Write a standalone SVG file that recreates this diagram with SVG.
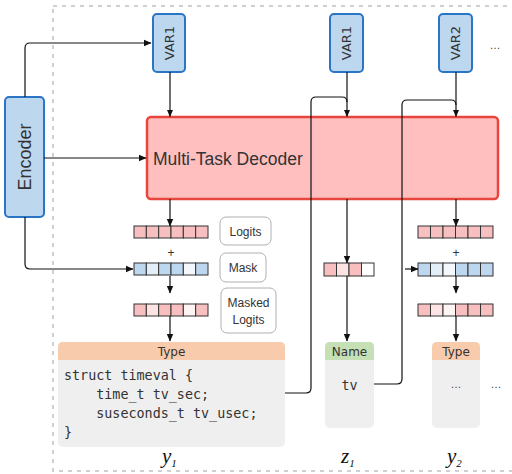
<svg xmlns="http://www.w3.org/2000/svg" width="512" height="474" viewBox="0 0 512 474">
<defs>
<marker id="ah" markerWidth="8" markerHeight="8" refX="7" refY="4" orient="auto" markerUnits="userSpaceOnUse">
<path d="M0,0.8 L7.5,4 L0,7.2 Z" fill="#111"/>
</marker>
<style>
.frame{fill:none;stroke:#d0d0d0;stroke-width:2;stroke-dasharray:4 5}
.blue{fill:#bdd7ee;stroke:#2b75c6;stroke-width:2}
.dec{fill:#ffbfbf;stroke:#e8453c;stroke-width:2.5}
.conn{fill:none;stroke:#111;stroke-width:1.2}
.conn-a{fill:none;stroke:#111;stroke-width:1.2;marker-end:url(#ah)}
.lbl{font-family:"Liberation Sans",Arial,sans-serif;fill:#333}
.vtxt{font-family:"DejaVu Sans","Liberation Sans",sans-serif;font-size:13px;fill:#333;text-anchor:middle}
.tag{fill:#fff;stroke:#b0b0b0;stroke-width:1}
.tagt{font-family:"Liberation Sans",Arial,sans-serif;font-size:12px;fill:#333;text-anchor:middle}
.cell{stroke:#333;stroke-width:1}
.p{fill:#f8bfc0}.pl{fill:#fde3e3}.pv{fill:#fff4f4}.w{fill:#fff}
.b{fill:#bdd7ee}.bl{fill:#e3eef8}.bv{fill:#f4f8fc}
.body{fill:#efefef}
.hdt{font-family:"DejaVu Sans","Liberation Sans",sans-serif;font-size:12px;fill:#333;text-anchor:middle}
.code{font-family:"DejaVu Sans Mono","Liberation Mono",monospace;font-size:13.4px;fill:#333;white-space:pre}
.var{font-family:"Liberation Serif","Times New Roman",serif;font-style:italic;fill:#111}
.dots{font-family:"Liberation Sans",Arial,sans-serif;font-size:11px;fill:#444;text-anchor:middle}
</style>
</defs>

<rect class="frame" x="53" y="6" width="470" height="465"/>

<g id="encoder">
<rect class="blue" x="5" y="97" width="39" height="120" rx="4"/>
<text class="lbl" font-size="18" text-anchor="middle" transform="translate(31,157) rotate(-90)">Encoder</text>
</g>

<g id="var1a">
<rect class="blue" x="153" y="14" width="32" height="58" rx="4"/>
<text class="vtxt" transform="translate(173.5,43) rotate(-90)">VAR1</text>
</g>
<g id="var1b">
<rect class="blue" x="330" y="14" width="33" height="58" rx="4"/>
<text class="vtxt" transform="translate(351,43) rotate(-90)">VAR1</text>
</g>
<g id="var2">
<rect class="blue" x="439" y="14" width="33" height="58" rx="4"/>
<text class="vtxt" transform="translate(460,43) rotate(-90)">VAR2</text>
</g>
<text class="dots" x="495" y="49">…</text>

<g id="decoder">
<rect class="dec" x="147" y="117" width="351" height="82" rx="4"/>
<text class="lbl" font-size="17.5" x="153" y="165">Multi-Task Decoder</text>
</g>

<g id="bars-left">
<g class="cell">
<rect class="p" x="134" y="226" width="12.33" height="12"/>
<rect class="p" x="146.33" y="226" width="12.33" height="12"/>
<rect class="p" x="158.67" y="226" width="12.33" height="12"/>
<rect class="p" x="171" y="226" width="12.33" height="12"/>
<rect class="p" x="183.33" y="226" width="12.33" height="12"/>
<rect class="p" x="195.67" y="226" width="12.33" height="12"/>
</g>
<text class="lbl" font-size="12" text-anchor="middle" x="171" y="257">+</text>
<g class="cell">
<rect class="b" x="134" y="263" width="12.33" height="12"/>
<rect class="bl" x="146.33" y="263" width="12.33" height="12"/>
<rect class="b" x="158.67" y="263" width="12.33" height="12"/>
<rect class="b" x="171" y="263" width="12.33" height="12"/>
<rect class="bv" x="183.33" y="263" width="12.33" height="12"/>
<rect class="b" x="195.67" y="263" width="12.33" height="12"/>
</g>
<g class="cell">
<rect class="p" x="134" y="304" width="12.33" height="12"/>
<rect class="pl" x="146.33" y="304" width="12.33" height="12"/>
<rect class="p" x="158.67" y="304" width="12.33" height="12"/>
<rect class="p" x="171" y="304" width="12.33" height="12"/>
<rect class="pv" x="183.33" y="304" width="12.33" height="12"/>
<rect class="p" x="195.67" y="304" width="12.33" height="12"/>
</g>
</g>

<g id="tag-logits">
<rect class="tag" x="220" y="217" width="51" height="28" rx="6"/>
<text class="tagt" x="245.5" y="235.5">Logits</text>
</g>
<g id="tag-mask">
<rect class="tag" x="220" y="253" width="46" height="29" rx="6"/>
<text class="tagt" x="243" y="272">Mask</text>
</g>
<g id="tag-masked">
<rect class="tag" x="221" y="288" width="55" height="45" rx="6"/>
<text class="tagt" x="248.5" y="307">Masked</text>
<text class="tagt" x="248.5" y="324">Logits</text>
</g>

<g id="bars-mid" class="cell">
<rect class="p" x="324" y="263" width="12.5" height="13"/>
<rect class="pl" x="336.5" y="263" width="12.5" height="13"/>
<rect class="p" x="349" y="263" width="12.5" height="13"/>
<rect class="w" x="361.5" y="263" width="12.5" height="13"/>
</g>

<g id="bars-right">
<g class="cell">
<rect class="p" x="418" y="226" width="12.5" height="12"/>
<rect class="p" x="430.5" y="226" width="12.5" height="12"/>
<rect class="p" x="443" y="226" width="12.5" height="12"/>
<rect class="p" x="455.5" y="226" width="12.5" height="12"/>
<rect class="p" x="468" y="226" width="12.5" height="12"/>
<rect class="p" x="480.5" y="226" width="12.5" height="12"/>
</g>
<text class="lbl" font-size="12" text-anchor="middle" x="456" y="257">+</text>
<g class="cell">
<rect class="b" x="418" y="263" width="12.5" height="13"/>
<rect class="bl" x="430.5" y="263" width="12.5" height="13"/>
<rect class="bv" x="443" y="263" width="12.5" height="13"/>
<rect class="b" x="455.5" y="263" width="12.5" height="13"/>
<rect class="b" x="468" y="263" width="12.5" height="13"/>
<rect class="b" x="480.5" y="263" width="12.5" height="13"/>
</g>
<g class="cell">
<rect class="p" x="418" y="304" width="12.5" height="12"/>
<rect class="pl" x="430.5" y="304" width="12.5" height="12"/>
<rect class="pv" x="443" y="304" width="12.5" height="12"/>
<rect class="p" x="455.5" y="304" width="12.5" height="12"/>
<rect class="p" x="468" y="304" width="12.5" height="12"/>
<rect class="p" x="480.5" y="304" width="12.5" height="12"/>
</g>
</g>

<g id="type-y1">
<rect class="body" x="58" y="342" width="227" height="105" rx="5"/>
<path d="M58,360 V347 Q58,342 63,342 H280 Q285,342 285,347 V360 Z" fill="#f8cbad"/>
<text class="hdt" x="171.5" y="356">Type</text>
<text class="code" x="64" y="380">struct timeval {</text>
<text class="code" x="64" y="399">    time_t tv_sec;</text>
<text class="code" x="64" y="418">    suseconds_t tv_usec;</text>
<text class="code" x="64" y="437">}</text>
</g>

<g id="name-z1">
<rect class="body" x="325" y="342" width="49" height="86" rx="5"/>
<path d="M325,360 V347 Q325,342 330,342 H369 Q374,342 374,347 V360 Z" fill="#c5e0b4"/>
<text class="hdt" x="349.5" y="356">Name</text>
<text class="code" x="349.5" y="390" text-anchor="middle">tv</text>
</g>

<g id="type-y2">
<rect class="body" x="432" y="342" width="48" height="86" rx="5"/>
<path d="M432,360 V347 Q432,342 437,342 H475 Q480,342 480,347 V360 Z" fill="#f8cbad"/>
<text class="hdt" x="456" y="356">Type</text>
<text class="dots" x="456" y="388" font-size="9">…</text>
</g>
<text class="dots" x="496" y="388">…</text>

<g id="labels">
<text class="var" x="162" y="463" font-size="21">y<tspan font-size="11" dy="4">1</tspan></text>
<text class="var" x="341" y="463" font-size="21">z<tspan font-size="11" dy="4">1</tspan></text>
<text class="var" x="447" y="463" font-size="21">y<tspan font-size="11" dy="4">2</tspan></text>
</g>

<g id="connectors">
<path class="conn-a" d="M25,97 V48 Q25,43 30,43 H151"/>
<path class="conn-a" d="M44,158 H146"/>
<path class="conn-a" d="M25,217 V264 Q25,269 30,269 H133"/>
<path class="conn-a" d="M170,72 V116.5"/>
<path class="conn-a" d="M347,72 V116.5"/>
<path class="conn-a" d="M456,72 V116.5"/>
<path class="conn" d="M285,393 H306 Q311,393 311,388 V102 Q311,97 316,97 H342 Q347,97 347,102"/>
<path class="conn" d="M374,384 H397 Q402,384 402,379 V105 Q402,100 407,100 H451 Q456,100 456,105"/>
<path class="conn-a" d="M170,199 V226"/>
<path class="conn-a" d="M170,276 V293"/>
<path class="conn-a" d="M170,316 V341"/>
<path class="conn-a" d="M347,199 V263"/>
<path class="conn-a" d="M347,276 V341"/>
<path class="conn-a" d="M456,199 V226"/>
<path class="conn-a" d="M405,269 H418"/>
<path class="conn-a" d="M456,276 V293"/>
<path class="conn-a" d="M456,316 V341"/>
</g>
</svg>
